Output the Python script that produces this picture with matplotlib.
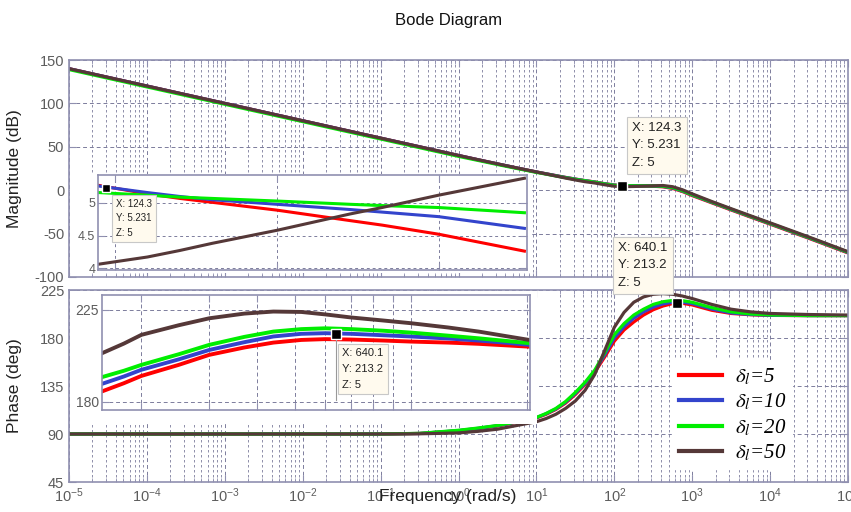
import matplotlib
matplotlib.use("Agg")
import matplotlib.pyplot as plt
import numpy as np
from matplotlib.patches import Rectangle
from matplotlib.ticker import LogLocator, NullFormatter

plt.rcParams['font.family'] = ['Liberation Sans Narrow', 'Liberation Sans', 'DejaVu Sans']
plt.rcParams['axes.unicode_minus'] = False

# main bode data (frequency exponents)
exps = [-5, -4, -3, -2, -1, -0.5, 0, 0.25, 0.5, 0.75, 1, 1.125, 1.25, 1.375, 1.5, 1.625, 1.75, 1.875,
        2, 2.125, 2.25, 2.375, 2.5, 2.625, 2.75, 2.875, 3, 3.25, 3.5, 3.75, 4, 4.5, 5]

mag_red   = [140, 120, 100, 80, 60, 50, 40, 35.1, 30.3, 25.6, 21.0, 18.9, 16.8, 14.7, 12.8, 11.0, 9.5, 7.5,
             6.0, 5.2, 5.05, 4.87, 4.55, 3.9, 2.0, -1.5, -6.2, -14.5, -22.8, -31.0, -39.1, -55.5, -72.3]
mag_blue  = [140, 120, 100, 80, 60, 50, 40, 35.1, 30.3, 25.6, 21.0, 18.9, 16.8, 14.7, 12.8, 11.0, 9.4, 7.4,
             5.9, 5.2, 5.08, 4.96, 4.82, 4.3, 2.6, -1.0, -5.6, -14.0, -22.3, -30.5, -38.6, -55.0, -71.8]
mag_green = [139, 119, 99, 79, 59, 49, 39, 34.3, 29.6, 25.0, 20.5, 18.5, 16.4, 14.4, 12.5, 10.8, 9.2, 7.2,
             5.6, 5.14, 5.08, 5.02, 4.95, 4.6, 3.0, -0.6, -5.2, -13.6, -21.9, -30.1, -38.2, -54.6, -71.4]
mag_brown = [140, 120, 100, 80, 60, 50, 40, 35.1, 30.3, 25.6, 21.0, 18.7, 16.4, 14.0, 11.8, 9.8, 8.3, 6.3,
             4.6, 4.1, 4.3, 4.65, 5.0, 5.4, 4.0, 0.5, -4.2, -13.0, -21.3, -29.5, -37.6, -54.0, -70.8]

ph_red   = [90, 90, 90, 90, 90, 90.5, 93.0, 95.0, 97.5, 101.0, 105.0, 108.5, 113.0, 119.0, 127.0, 136.5, 148.0, 162.0,
            177.0, 187.5, 195.0, 201.5, 206.5, 210.0, 212.3, 212.5, 211.0, 206.0, 203.0, 201.8, 201.2, 201.0, 201.0]
ph_blue  = [90, 90, 90, 90, 90, 90.5, 93.2, 95.3, 97.8, 101.3, 105.3, 109.0, 113.5, 119.8, 128.0, 137.5, 149.0, 164.0,
            180.0, 190.5, 198.5, 204.5, 209.0, 212.0, 213.6, 213.6, 212.3, 207.2, 203.5, 202.0, 201.3, 201.0, 201.0]
ph_green = [90, 90, 90, 90, 90, 90.6, 93.5, 95.6, 98.0, 101.5, 105.5, 109.3, 114.0, 120.5, 129.0, 138.5, 150.0, 166.0,
            183.0, 193.5, 201.5, 207.0, 211.5, 214.0, 215.2, 215.0, 213.5, 208.5, 204.5, 202.5, 201.6, 201.0, 201.0]
ph_brown = [90, 90, 90, 90, 90, 90.2, 91.0, 92.5, 94.5, 98.0, 101.5, 104.5, 108.5, 114.0, 121.0, 131.0, 146.0, 168.0,
            190.0, 204.0, 213.5, 218.5, 221.0, 221.6, 221.0, 219.3, 217.0, 211.5, 207.0, 204.5, 203.0, 202.0, 201.5]

# zoomed insets
in_mag_f = [120, 150, 170, 190, 230, 275, 295, 330, 383]
in_mag_red   = [5.27, 5.14, 5.07, 5.01, 4.89, 4.73, 4.66, 4.52, 4.26]
in_mag_blue  = [5.26, 5.16, 5.10, 5.05, 4.98, 4.90, 4.86, 4.79, 4.61]
in_mag_green = [5.16, 5.12, 5.09, 5.07, 5.03, 4.98, 4.96, 4.93, 4.85]
in_mag_brown = [4.06, 4.17, 4.27, 4.38, 4.58, 4.83, 4.93, 5.12, 5.38]

in_ph_f = [158, 180, 200, 250, 300, 370, 440, 520, 600, 700, 850, 1000, 1250, 1500, 1750, 2030]
in_ph_red   = [185.1, 189.1, 192.7, 198.1, 203.0, 206.6, 209.0, 210.3, 210.7, 210.5, 210.0, 209.5, 209.0, 208.4, 207.7, 207.0]
in_ph_blue  = [188.8, 192.4, 195.7, 200.8, 205.4, 209.2, 212.0, 213.3, 213.6, 213.3, 212.6, 212.0, 211.0, 210.0, 209.0, 207.9]
in_ph_green = [192.1, 195.2, 198.1, 203.3, 207.9, 211.8, 214.4, 215.6, 216.0, 215.6, 214.8, 213.9, 212.4, 211.1, 209.9, 208.7]
in_ph_brown = [203.8, 208.5, 212.8, 217.5, 220.9, 223.2, 224.2, 224.0, 222.8, 221.3, 219.8, 218.5, 216.4, 214.4, 212.3, 210.3]

labels = [r'$\delta_l$=5', r'$\delta_l$=10', r'$\delta_l$=20', r'$\delta_l$=50']
colors = ['#ff0000', '#3344cc', '#00ee00', '#553838']

freq = 10.0 ** np.array(exps)
spine_c = '#9090b0'
grid_c = '#7c7c9c'
tick_c = '#5c5c5c'

def style(ax):
    for s in ax.spines.values():
        s.set_color(spine_c)
        s.set_linewidth(1.2)
    ax.tick_params(which='both', direction='in', top=True, right=True, colors=spine_c, labelcolor=tick_c, labelsize=10.5)
    ax.tick_params(which='major', length=5)
    ax.tick_params(which='minor', length=3)

fig = plt.figure(figsize=(8.51, 5.12), dpi=100)
W, H = 851.0, 512.0
def box(x0, y0, x1, y1):
    return [x0 / W, 1 - y1 / H, (x1 - x0) / W, (y1 - y0) / H]

ax1 = fig.add_axes(box(69, 60, 848, 277))
ax2 = fig.add_axes(box(69, 290, 848, 482))

mags = [mag_red, mag_blue, mag_green, mag_brown]
phs = [ph_red, ph_blue, ph_green, ph_brown]
for m, p, c, l in zip(mags, phs, colors, labels):
    ax1.semilogx(freq, m, color=c, lw=2.3)
    ax2.semilogx(freq, p, color=c, lw=2.3, label=l)

for ax in (ax1, ax2):
    ax.set_xlim(1e-5, 1e5)
    ax.set_xticks([10.0 ** k for k in range(-5, 6)])
    ax.xaxis.set_minor_locator(LogLocator(base=10, subs=np.arange(2, 10), numticks=100))
    ax.xaxis.set_minor_formatter(NullFormatter())
    ax.grid(True, which='major', linestyle=(0, (4, 3)), color=grid_c, lw=0.7)
    ax.grid(True, which='minor', axis='x', linestyle=(0, (3, 3)), color=grid_c, lw=0.6)
    style(ax)

ax1.set_ylim(-100, 150)
ax1.set_yticks([-100, -50, 0, 50, 100, 150])
ax1.tick_params(labelbottom=False)
ax1.set_ylabel('Magnitude (dB)', fontsize=12.5, color='#222222')
ax1.yaxis.set_label_coords(-0.06, 0.5)

ax2.set_ylim(45, 225)
ax2.set_yticks([45, 90, 135, 180, 225])
ax2.set_ylabel('Phase (deg)', fontsize=12.5, color='#222222')
ax2.yaxis.set_label_coords(-0.06, 0.5)

# datatips on main axes
ax1.plot([124.3], [5.231], 's', color='black', mec='white', ms=7, zorder=6)
ax2.plot([640.1], [213.2], 's', color='black', mec='white', ms=7, zorder=6)

leg = ax2.legend(loc='upper left', bbox_to_anchor=(662 / W, 1 - 350 / H), bbox_transform=fig.transFigure,
                 frameon=True, fancybox=False, edgecolor='white', framealpha=1,
                 handlelength=2.1, handletextpad=0.6, labelspacing=0.22, borderpad=0.3, fontsize=15)
for t in leg.get_texts():
    t.set_family(['Liberation Serif', 'DejaVu Serif'])
    t.set_style('italic')
    t.set_math_fontfamily('stix')
for h in leg.get_lines():
    h.set_linewidth(3)

# white backing behind insets
fig.patches.append(Rectangle((70 / W, 1 - 273 / H), 460 / W, 99 / H, transform=fig.transFigure,
                             fc='white', ec='none', zorder=0.5))
fig.patches.append(Rectangle((70 / W, 1 - 424 / H), 467 / W, 133 / H, transform=fig.transFigure,
                             fc='white', ec='none', zorder=0.5))

# magnitude inset
ins1 = fig.add_axes(box(98, 175, 527, 270), zorder=1)
for y, c in zip([in_mag_red, in_mag_blue, in_mag_green, in_mag_brown], colors):
    ins1.plot(in_mag_f, y, color=c, lw=2.2)
ins1.set_xlim(119.4, 384.6)
ins1.set_ylim(3.97, 5.43)
ins1.set_xticks([130, 230, 330])
ins1.set_yticks([4, 4.5, 5])
ins1.set_yticklabels(['4', '4.5', '5'])
ins1.tick_params(labelbottom=False)
ins1.grid(True, linestyle=(0, (3, 3)), color=grid_c, lw=0.7)
style(ins1)
ins1.tick_params(labelsize=9, pad=2)
ins1.plot([124.3], [5.231], 's', color='black', mec='white', ms=6, zorder=6)

# phase inset
ins2 = fig.add_axes(box(102, 295, 530, 410), zorder=1)
for y, c in zip([in_ph_red, in_ph_blue, in_ph_green, in_ph_brown], colors):
    ins2.semilogx(in_ph_f, y, color=c, lw=2.8)
ins2.set_xlim(158, 2040)
ins2.set_ylim(176, 232.3)
ins2.set_xticks([200, 300, 400, 500, 600, 700, 800, 900, 1000, 2000])
ins2.xaxis.set_minor_locator(plt.NullLocator())
ins2.set_yticks([180, 225])
ins2.set_yticklabels(['180', '225'])
ins2.tick_params(labelbottom=False)
ins2.grid(True, linestyle=(0, (4, 3)), color=grid_c, lw=0.7)
style(ins2)
ins2.tick_params(labelsize=10, pad=2)
ins2.plot([640.1, 640.1], [213.2, 181], color='#999999', lw=0.8)
ins2.plot([640.1], [213.2], 's', color='black', mec='white', ms=7, zorder=6)

# datatip boxes
tip = dict(boxstyle='square,pad=0.4', fc='#fffaee', ec='#c8c8c8', lw=0.8)
fig.text(632 / W, 1 - 122 / H, 'X: 124.3\nY: 5.231\nZ: 5', fontsize=9.5, va='top', ha='left',
         linespacing=1.6, bbox=tip, color='#222222', zorder=10)
fig.text(618 / W, 1 - 242 / H, 'X: 640.1\nY: 213.2\nZ: 5', fontsize=9.5, va='top', ha='left',
         linespacing=1.6, bbox=tip, color='#222222', zorder=10)
fig.text(116 / W, 1 - 199 / H, 'X: 124.3\nY: 5.231\nZ: 5', fontsize=7, va='top', ha='left',
         linespacing=1.55, bbox=tip, color='#222222', zorder=10)
fig.text(342 / W, 1 - 348 / H, 'X: 640.1\nY: 213.2\nZ: 5', fontsize=8, va='top', ha='left',
         linespacing=1.75, bbox=tip, color='#222222', zorder=10)

fig.text(449 / W, 1 - 20 / H, 'Bode Diagram', ha='center', va='center', fontsize=12, color='#111111')
fig.text(448 / W, 1 - 497 / H, 'Frequency (rad/s)', ha='center', va='center', fontsize=12.5, color='#222222', zorder=10)

fig.savefig('out.png', dpi=100)
